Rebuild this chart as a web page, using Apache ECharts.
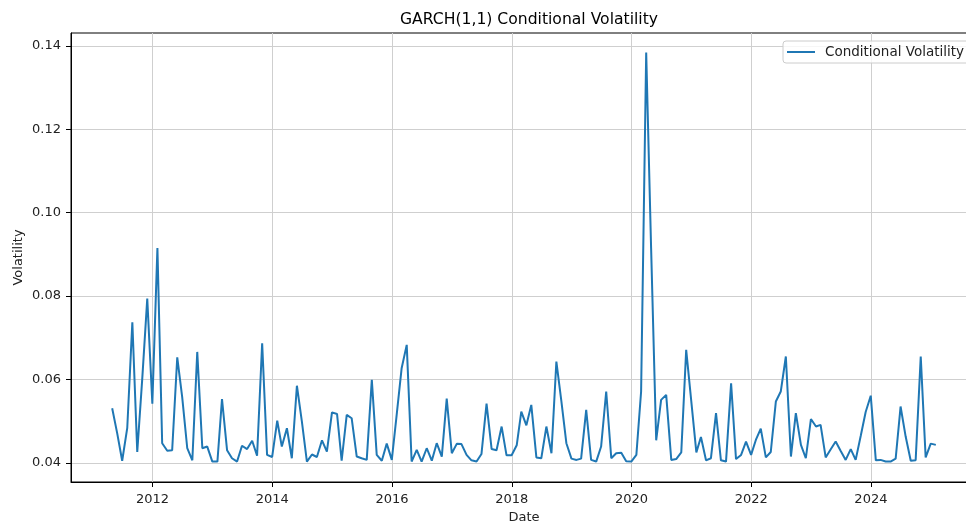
<!DOCTYPE html>
<html>
<head>
<meta charset="utf-8">
<script src="https://cdn.jsdelivr.net/npm/echarts@6/dist/echarts.min.js"></script>
<style>
  html, body { margin: 0; padding: 0; background: #fff; }
  #chart { width: 966px; height: 523px; }
</style>
</head>
<body>
<div id="chart"></div>
<script>
// month-end volatility, starting 2011-04-30
const startYear = 2011;
const startMonth = 4; // Date.UTC(y, 4, 0) -> 30 April
const volatility = [
  0.0531, 0.0470, 0.0405, 0.0484, 0.0737, 0.0426, 0.0605, 0.0794, 0.0542, 0.0915,
  0.0447, 0.0429, 0.0430, 0.0653, 0.0558, 0.0435, 0.0406, 0.0666, 0.0435, 0.0439,
  0.0403, 0.0403, 0.0553, 0.0430, 0.0411, 0.0403, 0.0441, 0.0433, 0.0453, 0.0417,
  0.0687, 0.0419, 0.0414, 0.0501, 0.0439, 0.0483, 0.0411, 0.0585, 0.0500, 0.0403,
  0.0420, 0.0414, 0.0454, 0.0427, 0.0521, 0.0517, 0.0405, 0.0515, 0.0507, 0.0415,
  0.0411, 0.0407, 0.0599, 0.0419, 0.0405, 0.0446, 0.0407, 0.0520, 0.0627, 0.0683,
  0.0403, 0.0431, 0.0403, 0.0435, 0.0405, 0.0447, 0.0415, 0.0554, 0.0423, 0.0446,
  0.0445, 0.0419, 0.0406, 0.0403, 0.0421, 0.0542, 0.0433, 0.0430, 0.0487, 0.0418,
  0.0418, 0.0442, 0.0523, 0.0490, 0.0539, 0.0413, 0.0411, 0.0487, 0.0423, 0.0643,
  0.0546, 0.0447, 0.0410, 0.0407, 0.0410, 0.0527, 0.0407, 0.0403, 0.0439, 0.0571,
  0.0411, 0.0423, 0.0424, 0.0404, 0.0403, 0.0419, 0.0571, 0.1384, 0.0915, 0.0454,
  0.0551, 0.0563, 0.0407, 0.0409, 0.0425, 0.0671, 0.0548, 0.0425, 0.0462, 0.0406,
  0.0411, 0.0519, 0.0406, 0.0403, 0.0591, 0.0409, 0.0419, 0.0451, 0.0419, 0.0457,
  0.0482, 0.0413, 0.0426, 0.0547, 0.0571, 0.0655, 0.0415, 0.0519, 0.0443, 0.0411,
  0.0505, 0.0487, 0.0491, 0.0413, 0.0432, 0.0451, 0.0429, 0.0407, 0.0433, 0.0407,
  0.0465, 0.0522, 0.0561, 0.0406, 0.0407, 0.0403, 0.0403, 0.0410, 0.0535, 0.0463,
  0.0405, 0.0406, 0.0655, 0.0413, 0.0446, 0.0443
];
const yearTicks = [2012, 2014, 2016, 2018, 2020, 2022, 2024];
const yTicks = [0.04, 0.06, 0.08, 0.10, 0.12, 0.14];

const dates = volatility.map((_, i) => Date.UTC(startYear, startMonth + i, 0));
const points = dates.map((d, i) => [d, volatility[i]]);
const xTickValues = yearTicks.map(y => Date.UTC(y, 0, 1));

// matplotlib style 5% margins
const span = dates[dates.length - 1] - dates[0];
const xMin = dates[0] - span * 0.05;
const xMax = dates[dates.length - 1] + span * 0.05;

const font = 'DejaVu Sans';
const chart = echarts.init(document.getElementById('chart'));

chart.setOption({
    animation: false,
    backgroundColor: '#fff',
    title: {
        text: 'GARCH(1,1) Conditional Volatility',
        left: 524, top: 7, textAlign: 'center',
        textStyle: { fontFamily: font, fontSize: 15.6, fontWeight: 'normal', color: '#000' }
    },
    legend: {
        left: 783, top: 41,
        padding: [4, 10, 4, 4],
        backgroundColor: 'rgba(255,255,255,0.8)',
        borderColor: '#cccccc', borderWidth: 1, borderRadius: 3,
        itemWidth: 28, itemHeight: 2,
        icon: 'rect',
        textStyle: { fontFamily: font, fontSize: 13.5, color: '#222', padding: [0, 0, 0, 5] },
        data: ['Conditional Volatility']
    },
    grid: {
        left: 71, top: 33, width: 906, height: 449,
        outerBoundsMode: 'none',
        show: true, borderColor: '#000', borderWidth: 1
    },
    xAxis: {
        type: 'value',
        min: xMin, max: xMax,
        name: 'Date', nameLocation: 'middle', nameGap: 29,
        nameTextStyle: { fontFamily: font, fontSize: 13, color: '#222' },
        axisLine: { show: true, lineStyle: { color: '#000', width: 1 } },
        axisTick: { show: true, customValues: xTickValues, length: 5, lineStyle: { color: '#000' } },
        axisLabel: {
            customValues: xTickValues, margin: 11,
            fontFamily: font, fontSize: 13, color: '#222',
            formatter: v => String(new Date(v).getUTCFullYear())
        },
        splitLine: { show: true, lineStyle: { color: '#cfcfcf', width: 1 } }
    },
    yAxis: {
        type: 'value',
        min: 0.0354, max: 0.1431,
        name: 'Volatility', nameLocation: 'middle', nameGap: 46, nameRotate: 90,
        nameMoveOverlap: false,
        nameTextStyle: { fontFamily: font, fontSize: 13, color: '#222' },
        axisLine: { show: true, lineStyle: { color: '#000', width: 1 } },
        axisTick: { show: true, customValues: yTicks, length: 5, lineStyle: { color: '#000' } },
        axisLabel: {
            customValues: yTicks, margin: 10,
            fontFamily: font, fontSize: 13, color: '#222',
            formatter: v => v.toFixed(2)
        },
        splitLine: { show: true, lineStyle: { color: '#cfcfcf', width: 1 } }
    },
    series: [{
        name: 'Conditional Volatility',
        type: 'line',
        data: points,
        showSymbol: false,
        symbol: 'none',
        color: '#1f77b4',
        lineStyle: { color: '#1f77b4', width: 2 }
    }]
});
</script>
</body>
</html>
